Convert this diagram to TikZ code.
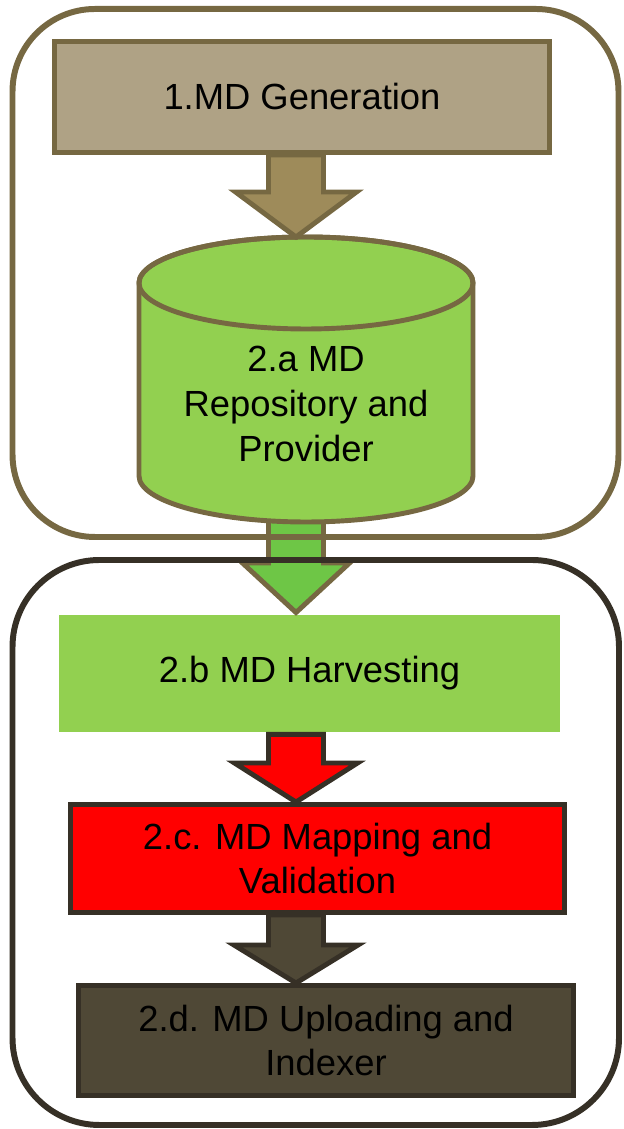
\documentclass[tikz,border=0pt]{standalone}
\usepackage{fontspec}
\setmainfont{Liberation Sans}
\definecolor{mdbrown}{RGB}{118,104,66}
\definecolor{mdtan}{RGB}{175,162,133}
\definecolor{mdolive}{RGB}{158,139,90}
\definecolor{mdgreen}{RGB}{146,208,80}
\definecolor{mdlime}{RGB}{110,198,70}
\definecolor{mddark}{RGB}{54,48,38}
\definecolor{mdsoil}{RGB}{79,72,54}
\definecolor{mdred}{RGB}{255,0,0}
\usetikzlibrary{calc}

% block arrow: style, from, to, head length, head half width
\newcommand{\blockarr}[5]{%
  \draw[barrow, #1] ($(#2 -| ax)+(-0.55,0)$) -- ($(#3 -| ax)+(-0.55,#4)$)
    -- ($(#3 -| ax)+(-#5,#4)$) -- (#3 -| ax) -- ($(#3 -| ax)+(#5,#4)$)
    -- ($(#3 -| ax)+(0.55,#4)$) -- ($(#2 -| ax)+(0.55,0)$) -- cycle;}

\begin{document}
\begin{tikzpicture}[
  grp/.style={line width=3.4pt},
  mdbox/.style={rectangle, line width=2.8pt, minimum width=9.9cm, minimum height=2.2cm,
                align=center, font=\fontsize{20.7}{25.5}\selectfont},
  barrow/.style={line width=2.8pt, line join=miter},
  cyl/.style={draw=mdbrown, fill=mdgreen, line width=2.8pt}
]
\useasboundingbox (0,0) rectangle (12.46,22.58);
\coordinate (ax) at (5.92,0);

% Harvesting box and the arrow into it
\node[mdbox, fill=mdgreen, minimum width=10.02cm, minimum height=2.34cm] (hv) at (6.19,9.11) {2.b MD Harvesting};
\coordinate (cylbot) at (6.12,12.4);
\blockarr{draw=mdbrown, fill=mdlime}{cylbot}{hv.north}{0.99}{1.07}

% Group frames
\draw[grp, draw=mdbrown, rounded corners=1.65cm] (0.25,11.84) rectangle (12.37,22.40);
\draw[grp, draw=mddark, rounded corners=1.74cm] (0.25,0.08) rectangle (12.38,11.38);

% Repository cylinder
\filldraw[cyl] (2.78,16.92) -- (2.78,13.06)
  arc[start angle=180, end angle=360, x radius=3.34, y radius=0.92] -- (9.46,16.92)
  arc[start angle=0, end angle=180, x radius=3.34, y radius=0.92] -- cycle;
\draw[cyl, fill=none] (6.12,16.92) ellipse [x radius=3.34, y radius=0.92];
\node[align=center, font=\fontsize{20.7}{25.5}\selectfont] (repo) at (6.12,14.50) {2.a MD\\Repository and\\Provider};
\coordinate (cyltop) at (6.12,17.84);

% Generation box
\node[mdbox, draw=mdbrown, fill=mdtan, minimum height=2.22cm] (gen) at (6.04,20.64) {1.MD Generation};
\blockarr{draw=mdbrown, fill=mdolive}{gen.south}{cyltop}{0.9}{1.21}

% Mapping box
\node[mdbox, draw=mddark, fill=mdred, minimum width=9.88cm, minimum height=2.16cm] (map) at (6.35,5.41) {2.c. MD Mapping and\\Validation};
\blockarr{draw=mddark, fill=mdred}{hv.south}{map.north}{0.78}{1.23}

% Uploading box
\node[mdbox, draw=mddark, fill=mdsoil] (upl) at (6.52,1.77) {2.d. MD Uploading and\\Indexer};
\blockarr{draw=mddark, fill=mdsoil}{map.south}{upl.north}{0.76}{1.24}
\end{tikzpicture}
\end{document}
